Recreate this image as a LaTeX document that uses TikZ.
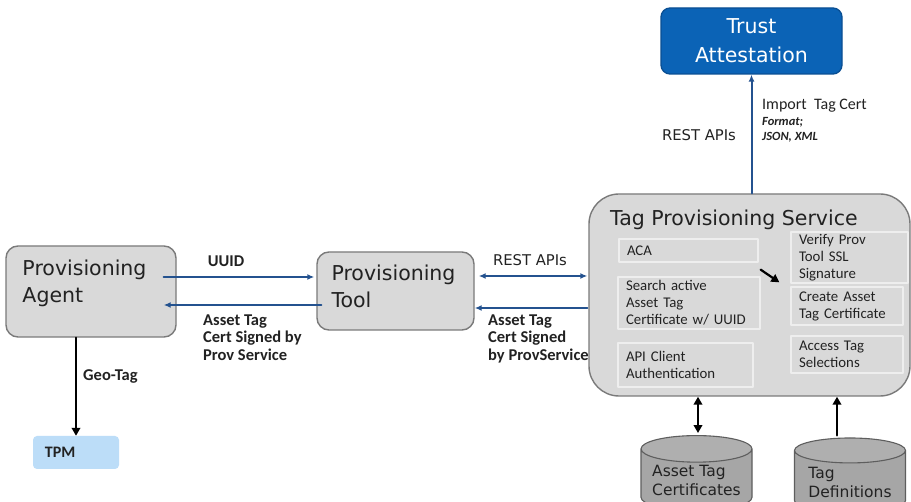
\documentclass[tikz,border=0pt]{standalone}
\usepackage{fontspec}
\setmainfont{DejaVu Sans}
\newfontfamily\lblfont{Carlito}
\usetikzlibrary{arrows.meta,shapes.geometric}
\definecolor{boxgray}{HTML}{D9D9D9}
\definecolor{boxline}{HTML}{7A7A7A}
\definecolor{innerline}{HTML}{EEEEEE}
\definecolor{textdark}{HTML}{222222}
\definecolor{trustblue}{HTML}{0B63B6}
\definecolor{trustline}{HTML}{0A4F93}
\definecolor{arrowblue}{HTML}{24528F}
\definecolor{tpmblue}{HTML}{BCDDF8}
\definecolor{cylgray}{HTML}{A6A6A6}
\definecolor{cylline}{HTML}{5E5E5E}
\begin{document}
\begin{tikzpicture}[x=1pt,y=-1pt,line cap=round,line join=round,
  pbox/.style={draw=boxline,fill=boxgray,line width=1.4pt,rounded corners=12pt,inner sep=0pt},
  ptitle/.style={inner sep=0pt,align=left,text=textdark,font=\fontsize{20.5}{27}\selectfont},
  ibox/.style={draw=innerline,line width=1.3pt,inner xsep=8pt,inner ysep=0pt,align=left,
    text=textdark,font=\lblfont\fontsize{14.8}{17}\selectfont},
  lbl/.style={inner sep=0pt,align=left,text=textdark,font=\lblfont\bfseries\fontsize{16.5}{17.5}\selectfont},
  bluearr/.style={draw=arrowblue,line width=2pt,-{Latex[length=7pt,width=6pt]}},
  blkarr/.style={draw=black,line width=2.2pt,-{Triangle[length=8pt,width=8.5pt]}},
  db/.style={cylinder,shape border rotate=90,aspect=0.3,draw=cylline,line width=1.1pt,
    cylinder uses custom fill,cylinder body fill=cylgray,cylinder end fill=cylgray!90!white,
    minimum width=111pt,minimum height=75pt,inner sep=0pt,align=left,text=textdark,
    font=\fontsize{15.5}{19}\selectfont}]
  \fill[white] (0,0) rectangle (911,502);
  \useasboundingbox (0,0) rectangle (911,502);

  \node[draw=trustline,fill=trustblue,line width=1.3pt,rounded corners=9pt,minimum width=181pt,
    minimum height=66pt,align=center,text=white,font=\fontsize{20.5}{29}\selectfont]
    (trust) at (751.5,41) {Trust\\Attestation};

  \node[pbox,rounded corners=30pt,minimum width=321pt,minimum height=202pt] (tps) at (749.5,295) {};
  \node[ptitle,anchor=west] (tpstitle) at (610,220) {Tag Provisioning Service};
  \node[ibox,text width=123pt,minimum height=23pt] (aca) at (688.5,250.5) {ACA};
  \node[ibox,text width=126pt,minimum height=52pt] (search) at (689,303)
    {Search active\\Asset Tag\\Certificate w/ UUID};
  \node[ibox,text width=119pt,minimum height=44pt] (apiauth) at (685.5,365) {API Client\\Authentication};
  \node[ibox,text width=101pt,minimum height=51pt] (verify) at (849.5,257.5) {Verify Prov\\Tool SSL\\Signature};
  \node[ibox,text width=96pt,minimum height=38pt] (create) at (847,306) {Create Asset\\Tag Certificate};
  \node[ibox,text width=96pt,minimum height=37pt] (access) at (847,354.5) {Access Tag\\Selections};

  \node[pbox,minimum width=170pt,minimum height=91pt] (agent) at (91,291.5) {};
  \node[ptitle,anchor=north west] (agenttitle) at ([xshift=17pt,yshift=-14pt]agent.north west)
    {Provisioning\\Agent};
  \node[pbox,minimum width=157pt,minimum height=78pt] (tool) at (395.5,291) {};
  \node[ptitle,anchor=north west] (tooltitle) at ([xshift=15pt,yshift=-13pt]tool.north west)
    {Provisioning\\Tool};

  \node[fill=tpmblue,rounded corners=4pt,text width=62pt,inner xsep=12pt,minimum height=33pt,
    align=left,text=textdark,font=\lblfont\bfseries\fontsize{16}{18}\selectfont] (tpm) at (76,452.5) {TPM};

  \node[db] (certdb) at (696.5,480) {Asset Tag\\Certificates};
  \node[db] (tagdb) at (850,482) {Tag\\Definitions};

  \draw[bluearr] (tps.north -| trust.south) -- (trust.south);
  \node[anchor=center,inner sep=0pt,text=textdark,font=\fontsize{14.8}{17}\selectfont] (restup) at (699,135) {REST APIs};
  \node[anchor=west,inner sep=0pt,text=textdark,font=\lblfont\fontsize{16}{18}\selectfont] (importlbl) at (762,106)
    {Import\ \ Tag Cert};
  \node[anchor=north west,inner sep=0pt,align=left,text=textdark,
    font=\lblfont\bfseries\itshape\fontsize{12.5}{15}\selectfont] (formatlbl) at (762,117) {Format;\\JSON, XML};

  \draw[bluearr] ([xshift=-13pt,yshift=14.5pt]agent.east) -- ([xshift=-2pt,yshift=14pt]tool.west);
  \draw[bluearr] ([xshift=5pt,yshift=-14pt]tool.west) -- ([xshift=-13pt,yshift=-13.5pt]agent.east);
  \node[lbl] (uuidlbl) at (226,261) {UUID};
  \node[lbl,anchor=north west] (certlbl) at (203,314.5) {Asset Tag\\Cert Signed by\\Prov Service};

  \draw[bluearr,{Latex[length=7pt,width=6pt]}-{Latex[length=7pt,width=6pt]}]
    ([xshift=4pt,yshift=15pt]tool.east) -- ([xshift=-1pt,yshift=19pt]tps.west);
  \draw[bluearr] ([xshift=-1pt,yshift=-13pt]tps.west) -- ([yshift=-17pt]tool.east);
  \node[anchor=center,inner sep=0pt,text=textdark,font=\fontsize{14.8}{17}\selectfont] (restlbl) at (530,260) {REST APIs};
  \node[lbl,anchor=north west] (signedlbl) at (488,314.5) {Asset Tag\\Cert Signed\\by ProvService};

  \draw[blkarr] (tpm.north |- agent.south) -- (tpm.north);
  \node[lbl,anchor=west] (geolbl) at (83,376) {Geo-Tag};

  \draw[blkarr] ([shift={(2pt,-7pt)}]aca.south east) -- ([shift={(-11pt,4pt)}]create.north west);
  \draw[blkarr,{Triangle[length=8pt,width=8.5pt]}-{Triangle[length=8pt,width=8.5pt]}]
    ([xshift=1.5pt]certdb.north |- tps.south) -- ([xshift=1.5pt,yshift=2pt]certdb.north);
  \draw[blkarr] ([xshift=-13pt,yshift=2pt]tagdb.north) -- ([xshift=-13pt]tagdb.north |- tps.south);
\end{tikzpicture}
\end{document}
